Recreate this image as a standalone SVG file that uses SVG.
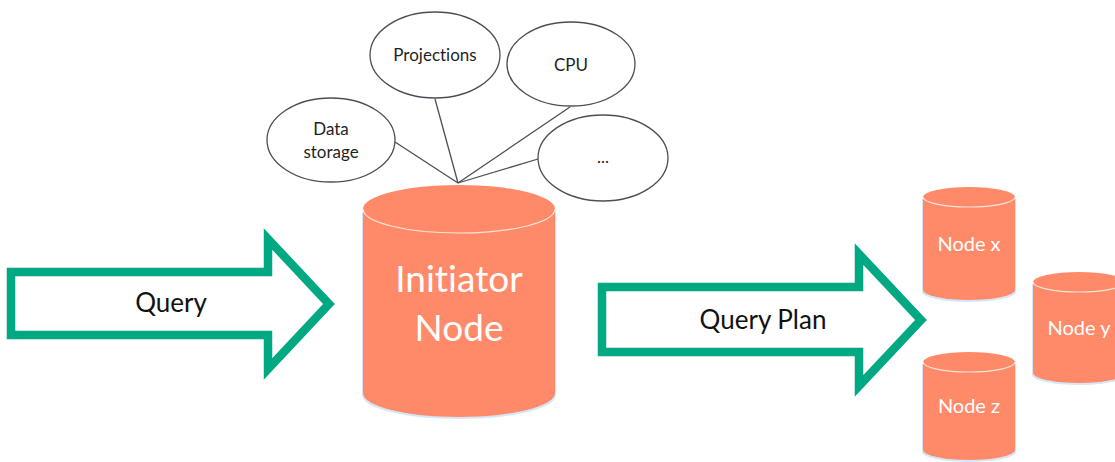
<svg xmlns="http://www.w3.org/2000/svg" width="1115" height="462" viewBox="0 0 1115 462">
<style>
text{font-variant-ligatures:none}
.bubble{fill:#fff;stroke:#4a4f55;stroke-width:1.3}
.btxt{font-family:Lato,"Open Sans",sans-serif;font-size:17px;fill:#1f1f1f;text-anchor:middle}
.cyl{fill:#FF8A69}
.shadow{fill:#d6e6f4}
.rim{fill:none;stroke:#ffe3d9;stroke-width:1.2}
.ctxt{font-family:Lato,"Open Sans",sans-serif;fill:#fff;text-anchor:middle}
.arrow{fill:#fff;stroke:#01A982;stroke-width:8.5;stroke-linejoin:miter}
.atxt{font-family:Lato,"Open Sans",sans-serif;font-size:26px;fill:#111;text-anchor:middle}
.link{stroke:#4a4f55;stroke-width:1.3;fill:none}
</style>
<g id="connectors">
<line class="link" x1="395" y1="142" x2="458" y2="183"/>
<line class="link" x1="435" y1="99" x2="458" y2="183"/>
<line class="link" x1="570" y1="107" x2="458" y2="183"/>
<line class="link" x1="538" y1="159" x2="458" y2="183"/>
</g>
<g id="data-storage">
<ellipse class="bubble" cx="331" cy="140" rx="64" ry="42"/>
<text class="btxt" x="331" y="135">Data</text>
<text class="btxt" x="331" y="158">storage</text>
</g>
<g id="projections">
<ellipse class="bubble" cx="435" cy="55" rx="65" ry="43"/>
<text class="btxt" x="435" y="61">Projections</text>
</g>
<g id="cpu">
<ellipse class="bubble" cx="571" cy="64" rx="64" ry="42"/>
<text class="btxt" x="571" y="71">CPU</text>
</g>
<g id="more">
<ellipse class="bubble" cx="603" cy="158" rx="65" ry="43"/>
<text class="btxt" x="603" y="163">...</text>
</g>
<g id="query-arrow">
<path class="arrow" d="M11,272 L268,272 L268,239 L329,304 L268,369 L268,335 L11,335 Z"/>
<text class="atxt" x="171" y="312">Query</text>
</g>
<g id="query-plan-arrow">
<path class="arrow" d="M602,287 L859,287 L859,254 L921,320 L859,386 L859,352 L602,352 Z"/>
<text class="atxt" x="763" y="329">Query Plan</text>
</g>
<g id="initiator-node">
<path class="shadow" d="M362,212 L362,395 A97 24 0 0 0 556,395 L556,212 Z"/>
<path class="cyl" d="M363,209 A96 24 0 0 1 555,209 L555,393 A96 24 0 0 1 363,393 Z"/>
<path class="rim" d="M363,209 A96 24 0 0 0 555,209"/>
<text class="ctxt" x="459" y="292" font-size="37">Initiator</text>
<text class="ctxt" x="459" y="341" font-size="37">Node</text>
</g>
<g id="node-x">
<path class="shadow" d="M922,199 L922,292 A47 10 0 0 0 1016,292 L1016,199 Z"/>
<path class="cyl" d="M923,197 A46 10 0 0 1 1015,197 L1015,290 A46 10 0 0 1 923,290 Z"/>
<path class="rim" d="M923,197 A46 10 0 0 0 1015,197"/>
<text class="ctxt" x="969" y="251" font-size="20">Node x</text>
</g>
<g id="node-y">
<path class="shadow" d="M1032,284 L1032,375 A47 10 0 0 0 1126,375 L1126,284 Z"/>
<path class="cyl" d="M1033,282 A46 10 0 0 1 1125,282 L1125,373 A46 10 0 0 1 1033,373 Z"/>
<path class="rim" d="M1033,282 A46 10 0 0 0 1125,282"/>
<text class="ctxt" x="1079" y="335" font-size="20">Node y</text>
</g>
<g id="node-z">
<path class="shadow" d="M922,364 L922,452 A47 10 0 0 0 1016,452 L1016,364 Z"/>
<path class="cyl" d="M923,362 A46 10 0 0 1 1015,362 L1015,450 A46 10 0 0 1 923,450 Z"/>
<path class="rim" d="M923,362 A46 10 0 0 0 1015,362"/>
<text class="ctxt" x="969" y="413" font-size="20">Node z</text>
</g>
</svg>
